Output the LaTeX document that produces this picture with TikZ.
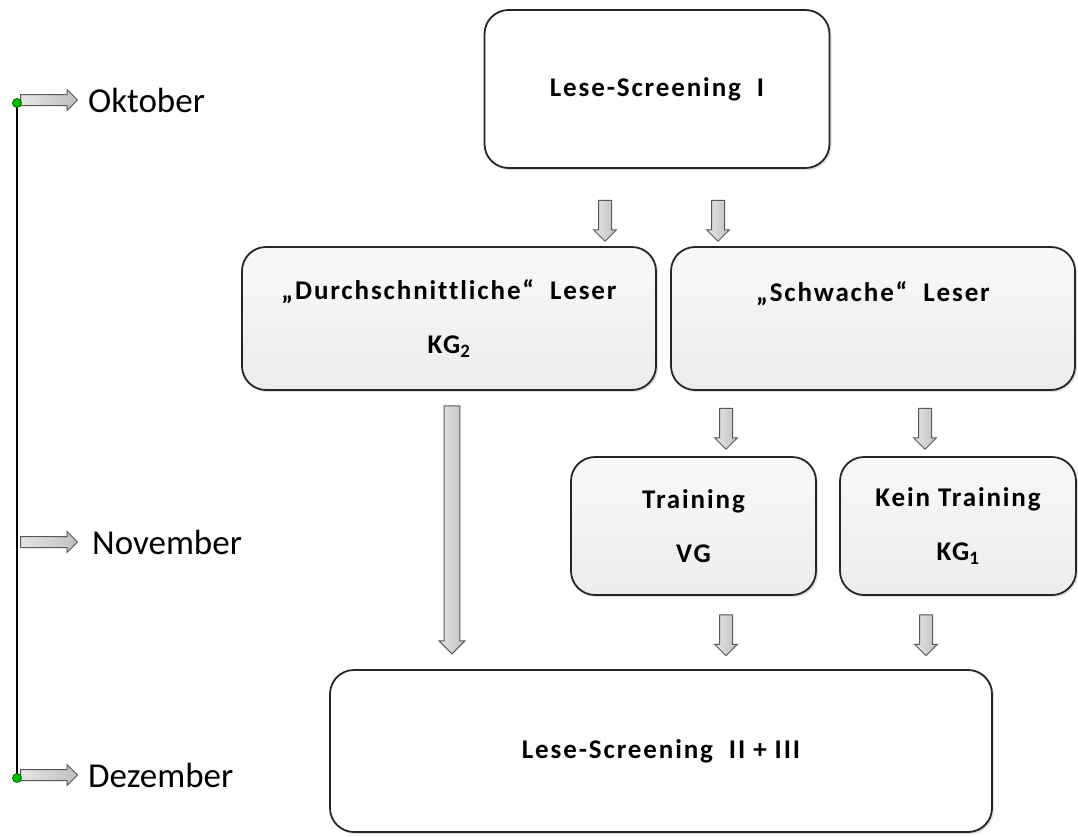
\documentclass[tikz,border=0pt]{standalone}
\usepackage{fontspec}
\setmainfont{Carlito}
\usetikzlibrary{positioning,shapes.arrows,shadows}

\tikzset{
  stagebox/.style={draw=black!85,line width=1.8pt,rounded corners=24pt,align=center,inner sep=0pt,
    font=\fontsize{27}{54}\selectfont\bfseries\addfontfeatures{LetterSpace=7,Ligatures=NoCommon},
    drop shadow={opacity=0.25,shadow xshift=2pt,shadow yshift=-2pt}},
  whitebox/.style={stagebox,fill=white},
  graybox/.style={stagebox,top color=gray!5,bottom color=gray!15},
  blockarrow/.style={single arrow,draw=black!65,left color=gray!20,right color=gray!50,line width=1pt,
    inner sep=6pt,single arrow head extend=5pt,minimum width=22pt},
  downarrow/.style={blockarrow,shape border rotate=270},
  month/.style={font=\fontsize{35}{40}\selectfont,anchor=west,inner sep=0pt},
}

\begin{document}
\begin{tikzpicture}[x=1pt,y=-1pt]
  \useasboundingbox (0,0) rectangle (1078,836);

  % boxes
  \node[whitebox,minimum width=345pt,minimum height=158pt] (screenA) at (657,89) {Lese-Screening\ \ I};
  \node[graybox,minimum width=414pt,minimum height=143pt] (average) at (449,318.5) {„Durchschnittliche“\ \ Leser\\KG\textsubscript{2}};
  \node[graybox,minimum width=404pt,minimum height=143pt] (weak) at (873,318.5) {„Schwache“\ \ Leser\\\phantom{KG}};
  \node[graybox,minimum width=245pt,minimum height=138pt] (train) at (693.5,526) {Training\\VG};
  \node[graybox,minimum width=236pt,minimum height=138pt] (notrain) at (958,526) {Kein Training\\KG\textsubscript{1}};
  \node[whitebox,minimum width=662pt,minimum height=162pt] (screenB) at (661,751) {Lese-Screening\ \ II + III};

  % block arrows between the boxes
  \node[downarrow,minimum height=41pt] (a1) at (605,217.5) {};
  \node[downarrow,minimum height=41pt] (a2) at (718,217.5) {};
  \node[downarrow,minimum height=41pt] (a3) at (726,425.5) {};
  \node[downarrow,minimum height=41pt] (a4) at (925,425.5) {};
  \node[downarrow,minimum height=41pt] (a5) at (726,632) {};
  \node[downarrow,minimum height=41pt] (a6) at (926,632) {};
  \node[downarrow,minimum height=248pt,minimum width=26pt,inner sep=7pt] (a7) at (452,526) {};

  % time line
  \coordinate (tstart) at (17,103);
  \coordinate (tend) at (17,778);
  \draw[line width=2.2pt] (tstart) -- (tend);
  \node[blockarrow,minimum height=57pt,minimum width=20pt,inner sep=5pt,anchor=tail] (oct) at (20,100) {};
  \node[blockarrow,minimum height=57pt,minimum width=20pt,inner sep=5pt,anchor=tail] (nov) at (20,542) {};
  \node[blockarrow,minimum height=57pt,minimum width=20pt,inner sep=5pt,anchor=tail] (dec) at (20,775) {};
  \fill[green!75!black,draw=green!40!black,line width=0.8pt] (tstart) circle (4.5pt);
  \fill[green!75!black,draw=green!40!black,line width=0.8pt] (tend) circle (4.5pt);
  \node[month] (octlabel) at (88,100) {Oktober};
  \node[month] (novlabel) at (92,542) {November};
  \node[month] (declabel) at (88,775) {Dezember};
\end{tikzpicture}
\end{document}
